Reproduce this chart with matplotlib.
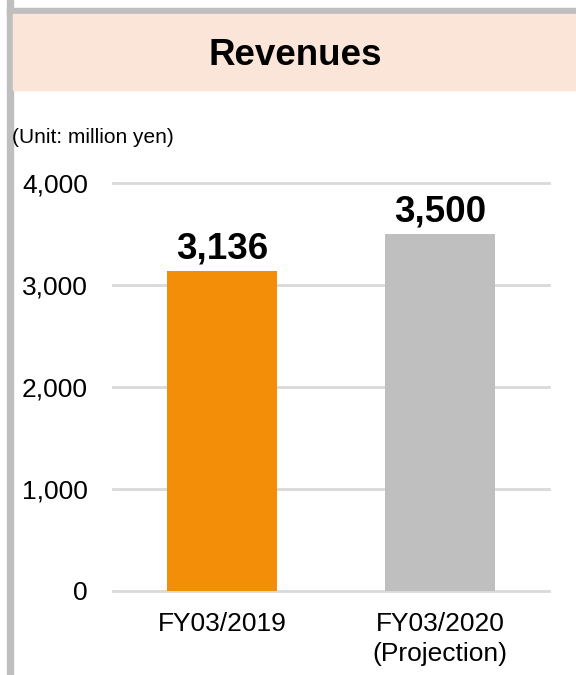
import matplotlib
matplotlib.use("Agg")
import matplotlib.pyplot as plt
from matplotlib.patches import Rectangle

plt.rcParams['font.family'] = ['Liberation Sans', 'DejaVu Sans']

# Data
categories = ["FY03/2019", "FY03/2020\n(Projection)"]
revenues = [3136, 3500]
value_labels = ["3,136", "3,500"]
bar_colors = ["#F28E07", "#BFBFBF"]
y_ticks = [0, 1000, 2000, 3000, 4000]
y_tick_labels = ["0", "1,000", "2,000", "3,000", "4,000"]

W, H = 576, 675
fig = plt.figure(figsize=(W / 100, H / 100), dpi=100)

def fx(px):
    return px / W

def fy(py):
    return 1 - py / H

# Frame: grey border on top and left, peach title band
fig.patches.append(Rectangle((fx(7), fy(675)), fx(6), 675 / H,
                             transform=fig.transFigure, color="#BFBFBF", zorder=0))
fig.patches.append(Rectangle((fx(7), fy(14)), fx(576 - 7), 6 / H,
                             transform=fig.transFigure, color="#BFBFBF", zorder=0))
fig.patches.append(Rectangle((fx(13), fy(90)), fx(576 - 13), 76 / H,
                             transform=fig.transFigure, color="#FBE5D9", zorder=0))

fig.text(fx(295.5), fy(65), "Revenues", ha="center", va="baseline",
         fontsize=26.5, fontweight="bold", color="black")
fig.text(fx(12.5), fy(143), "(Unit: million yen)", ha="left", va="baseline",
         fontsize=15, color="black")

ax = fig.add_axes([fx(113), fy(591), fx(549 - 113), (591 - 183) / H])
x = list(range(len(categories)))
ax.bar(x, revenues, width=0.505, color=bar_colors, zorder=3)
ax.set_xlim(-0.5, len(categories) - 0.5)
ax.set_ylim(0, 4000)

ax.set_yticks(y_ticks)
ax.set_yticklabels(y_tick_labels)
ax.set_xticks(x)
ax.set_xticklabels(categories, linespacing=1.35)
ax.tick_params(axis="y", length=0, pad=18, labelsize=19)
ax.tick_params(axis="x", length=0, pad=15, labelsize=19)

for s in ax.spines.values():
    s.set_visible(False)
ax.yaxis.grid(True, color="#D9D9D9", linewidth=2, zorder=0)
ax.set_axisbelow(True)
for gl in ax.yaxis.get_gridlines():
    gl.set_clip_on(False)

for xi, v, lab in zip(x, revenues, value_labels):
    ax.annotate(lab, xy=(xi, v), xytext=(0, 9), textcoords="offset points",
                ha="center", va="baseline", fontsize=26.5, fontweight="bold")

fig.savefig("out.png", dpi=100)
